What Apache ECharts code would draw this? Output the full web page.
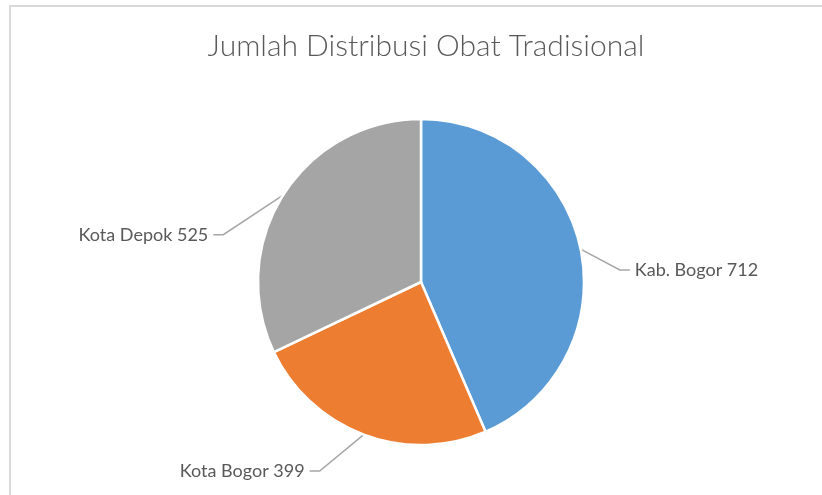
<!DOCTYPE html>
<html>
<head>
<meta charset="utf-8">
<script src="https://cdn.jsdelivr.net/npm/echarts@6/dist/echarts.min.js"></script>
<style>
  html, body { margin: 0; padding: 0; background: #fff; }
  #chart { width: 822px; height: 495px; }
</style>
</head>
<body>
<div id="chart"></div>
<script>
var categories = ['Kab. Bogor', 'Kota Bogor', 'Kota Depok'];
var values = [712, 399, 525];
var colors = ['#5B9BD5', '#ED7D31', '#A5A5A5'];
// label moves (dx, dy) so lines bend like the original
var labelShift = [[0, 29], [-30, -1], [-26, 61]];

var myChart = echarts.init(document.getElementById('chart'));

var data = categories.map(function (name, i) {
    return { name: name, value: values[i], itemStyle: { color: colors[i] } };
});

var option = {
    backgroundColor: '#fff',
    animation: false,
    title: {
        text: 'Jumlah Distribusi Obat Tradisional',
        left: 421,
        textAlign: 'center',
        top: 26,
        textStyle: {
            color: '#595959',
            fontFamily: 'Lato',
            fontWeight: 300,
            fontSize: 30
        }
    },
    graphic: [{
        type: 'rect',
        shape: { x: 10, y: 6, width: 830, height: 510 },
        style: { fill: 'none', stroke: '#D9D9D9', lineWidth: 2 },
        silent: true
    }],
    series: [{
        type: 'pie',
        center: [421, 282],
        radius: 163,
        startAngle: 90,
        clockwise: true,
        avoidLabelOverlap: false,
        data: data,
        itemStyle: { borderColor: '#fff', borderWidth: 2.5 },
        label: {
            show: true,
            formatter: '{b} {c}',
            color: '#595959',
            fontFamily: 'Lato',
            fontSize: 18
        },
        labelLine: {
            show: true,
            length: 40,
            length2: 10,
            lineStyle: { color: '#A6A6A6', width: 1.5 }
        },
        labelLayout: function (p) {
            var s = labelShift[p.dataIndex];
            var r = p.labelRect;
            var pts = p.labelLinePoints;
            var ax = p.align === 'right' ? r.x + r.width : r.x;
            return {
                x: ax + s[0],
                y: r.y + r.height / 2 + s[1],
                labelLinePoints: [
                    pts[0],
                    [pts[1][0] + s[0], pts[1][1] + s[1]],
                    [pts[2][0] + s[0], pts[2][1] + s[1]]
                ]
            };
        },
        emphasis: { disabled: true }
    }]
};

myChart.setOption(option);
</script>
</body>
</html>
